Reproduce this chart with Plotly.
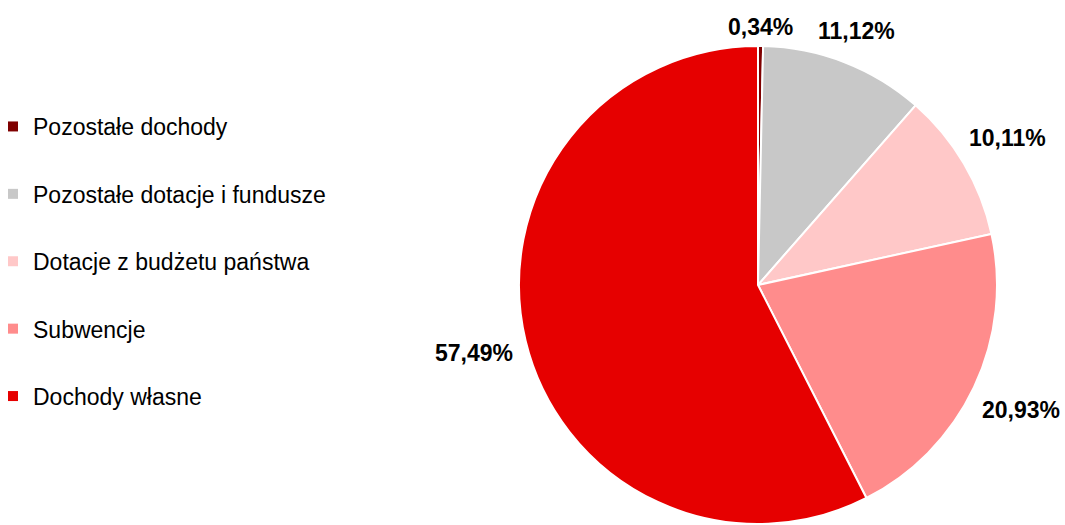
import math
import plotly.graph_objects as go

labels = ["Pozostałe dochody", "Pozostałe dotacje i fundusze", "Dotacje z budżetu państwa",
          "Subwencje", "Dochody własne"]
values = [0.34, 11.12, 10.11, 20.93, 57.49]
colors = ["#7F0000", "#C8C8C8", "#FFC8C8", "#FF8C8C", "#E60000"]
text_labels = ["0,34%", "11,12%", "10,11%", "20,93%", "57,49%"]

W, H = 1065, 525
font_reg = "Liberation Sans, Arial, sans-serif"

# pie geometry (pixels)
cx, cy, r = 758, 285, 239
dom_x = [(cx - r) / W, (cx + r) / W]
dom_y = [1 - (cy + r) / H, 1 - (cy - r) / H]

fig = go.Figure()
fig.add_trace(go.Pie(
    labels=labels, values=values, sort=False, direction="clockwise", rotation=0,
    marker=dict(colors=colors, line=dict(color="white", width=2)),
    textinfo="none", hoverinfo="label+percent", showlegend=False,
    domain=dict(x=dom_x, y=dom_y),
))

# legend entries
for lab, col in zip(labels, colors):
    fig.add_trace(go.Scatter(
        x=[None], y=[None], mode="markers", name=lab, legendgroup=lab,
        marker=dict(symbol="square", size=10, color=col),
    ))

# outside labels computed from slice angles
total = sum(values)
cum = 0.0
tw, th = 86, 20
for v, t in zip(values, text_labels):
    mid = (cum + v / 2) / total * 2 * math.pi
    cum += v
    s, c = math.sin(mid), math.cos(mid)
    d = r + 9 + abs(s) * tw / 2 + abs(c) * th / 2
    px = cx + d * s
    py = cy - d * c
    fig.add_annotation(
        x=px / W, y=1 - py / H, xref="paper", yref="paper",
        text=f"<b>{t}</b>", showarrow=False, xanchor="center", yanchor="middle",
        font=dict(family=font_reg, size=23, color="#000000"),
    )

fig.update_layout(
    width=W, height=H,
    margin=dict(l=0, r=0, t=0, b=0, autoexpand=False),
    paper_bgcolor="white", plot_bgcolor="white",
    xaxis=dict(visible=False), yaxis=dict(visible=False),
    legend=dict(
        x=0, y=0.80, xanchor="left", yanchor="top",
        font=dict(family=font_reg, size=23, color="#000000"),
        tracegroupgap=34.5, itemclick=False, indentation=-7,
    ),
    font=dict(family=font_reg),
)

fig.write_html("out.html", config={"displayModeBar": False},
               post_script="document.body.style.margin='0px';")
